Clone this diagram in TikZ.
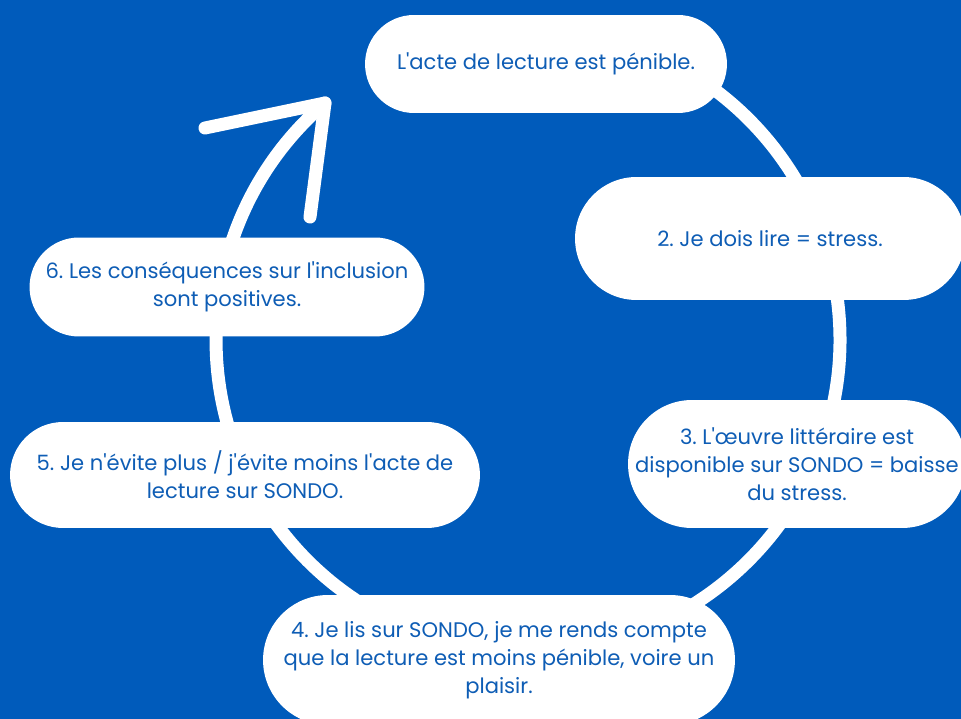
\documentclass[tikz,border=0pt]{standalone}
\usepackage{fontspec}
\setmainfont{Poppins}
\usepackage{tikz}

\definecolor{fond}{HTML}{005BBB}
\definecolor{texte}{HTML}{0E5DB5}
\newcommand{\apos}{\textquotesingle}
\frenchspacing

\tikzset{
	bulle/.style={fill=white, text=texte, align=center, inner sep=0pt,
		font=\fontsize{12}{16}\selectfont},
	anneau/.style={white, line width=0.26cm, line cap=round, line join=round}
}

\begin{document}
\begin{tikzpicture}[x=0.02cm, y=-0.02cm]
		\fill[fond] (0, 0) rectangle (961, 719);
		\clip (0, 0) rectangle (961, 719);
		% le cercle et la fleche
		\coordinate (pointe) at (325, 103);
		\coordinate (aileG) at (205, 128);
		\coordinate (aileB) at (310, 217);
		\draw[anneau] (pointe) arc[start angle=229.4, end angle=-60, radius=312];
		\draw[anneau] (aileG) -- (pointe) -- (aileB);
		% les bulles
		\node[bulle, minimum width=7.24cm, minimum height=1.96cm, rounded corners=0.98cm] (etape1) at (546, 64)
			{L\apos acte de lecture est pénible.};
		\node[bulle, minimum width=7.8cm, minimum height=2.46cm, rounded corners=1.23cm] (etape2) at (770, 238.5)
			{2. Je dois lire = stress.};
		\node[bulle, minimum width=6.76cm, minimum height=2.56cm, rounded corners=1.28cm] (etape3) at (797, 464)
			{3. L\apos œuvre littéraire est\\disponible sur SONDO = baisse\\du stress.};
		\node[bulle, minimum width=9.44cm, minimum height=2.6cm, rounded corners=1.3cm] (etape4) at (499, 660)
			{4. Je lis sur SONDO, je me rends compte\\que la lecture est moins pénible, voire un\\plaisir.};
		\node[bulle, minimum width=9.4cm, minimum height=2.12cm, rounded corners=1.06cm] (etape5) at (245, 475)
			{5. Je n\apos évite plus / j\apos évite moins l\apos acte de\\lecture sur SONDO.};
		\node[bulle, minimum width=7.9cm, minimum height=1.98cm, rounded corners=0.99cm] (etape6) at (227, 287)
			{6. Les conséquences sur l\apos inclusion\\sont positives.};
	\end{tikzpicture}
\end{document}
